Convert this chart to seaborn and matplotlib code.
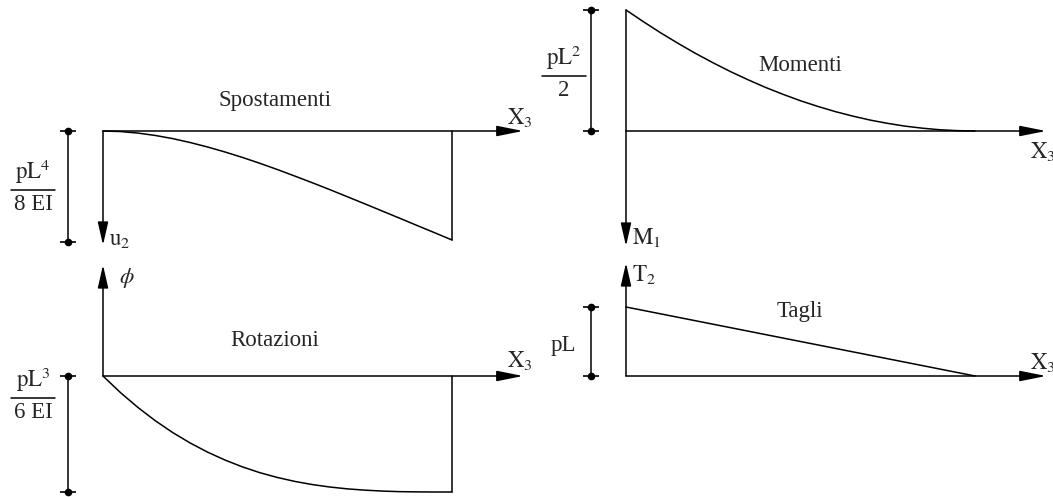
import numpy as np
import pandas as pd
import seaborn as sns
import matplotlib.pyplot as plt

# ---- data (normalised) ----
xi = [0.00, 0.05, 0.10, 0.15, 0.20, 0.25, 0.30, 0.35, 0.40, 0.45, 0.50,
      0.55, 0.60, 0.65, 0.70, 0.75, 0.80, 0.85, 0.90, 0.95, 1.00]
spostamenti = [0.000, 0.005, 0.019, 0.041, 0.070, 0.106, 0.147, 0.193, 0.243, 0.297, 0.354,
               0.414, 0.475, 0.538, 0.603, 0.668, 0.734, 0.800, 0.867, 0.933, 1.000]
rotazioni = [0.000, 0.143, 0.271, 0.386, 0.488, 0.578, 0.657, 0.725, 0.784, 0.834, 0.875,
             0.909, 0.936, 0.957, 0.973, 0.984, 0.992, 0.997, 0.999, 1.000, 1.000]
momenti = [1.000, 0.903, 0.810, 0.723, 0.640, 0.563, 0.490, 0.423, 0.360, 0.303, 0.250,
           0.203, 0.160, 0.123, 0.090, 0.063, 0.040, 0.023, 0.010, 0.003, 0.000]
tagli = [1.00, 0.95, 0.90, 0.85, 0.80, 0.75, 0.70, 0.65, 0.60, 0.55, 0.50,
         0.45, 0.40, 0.35, 0.30, 0.25, 0.20, 0.15, 0.10, 0.05, 0.00]

titles = ["Spostamenti", "Rotazioni", "Momenti", "Tagli"]
axis_labels = [r"$\mathrm{u}_2$", r"$\phi$", r"$\mathrm{M}_1$", r"$\mathrm{T}_2$"]
x_label = r"$\mathrm{X}_3$"
scale_num = [r"$\mathrm{pL}^4$", r"$\mathrm{pL}^3$", r"$\mathrm{pL}^2$", None]
scale_den = ["8 EI", "6 EI", "2", None]
scale_single = [None, None, None, "pL"]

sns.set_style("white")
plt.rcParams["font.family"] = ["Liberation Serif", "DejaVu Serif"]
plt.rcParams["mathtext.fontset"] = "stix"

W, H = 1053, 497
SX = 349.0
FS = 16.5
LW = 1.1
fig = plt.figure(figsize=(W / 100, H / 100), dpi=100)

# layout per panel: origin (px), px per unit value, sign (+1 up / -1 down)
layout = [
    dict(vals=spostamenti, ox=103, oy=131, sy=109, sign=-1,
         vstart=0, vtip=114, lab=(6, 108), title=(172, -31), xl=(417, -14, "center"),
         dim=(0, 111), frac=(-70, 59)),
    dict(vals=rotazioni, ox=103, oy=376, sy=116, sign=-1,
         vstart=0, vtip=-111, lab=(16, -98), title=(172, -36), xl=(417, -15, "center"),
         dim=(0, 116), frac=(-70, 22)),
    dict(vals=momenti, ox=626, oy=131, sy=121, sign=1,
         vstart=-121, vtip=115, lab=(6, 106), title=(174, -66), xl=(404, 20, "left"),
         dim=(-121, 0), frac=(-62, -55)),
    dict(vals=tagli, ox=626, oy=376, sy=69, sign=1,
         vstart=0, vtip=-113, lab=(6, -102), title=(174, -64), xl=(404, -14, "left"),
         dim=(-69, 0), frac=(-63, -31)),
]

arrow_h = dict(arrowstyle="-|>,head_length=0.8,head_width=0.16", mutation_scale=20,
               color="black", lw=LW, shrinkA=0, shrinkB=0)
arrow_v = dict(arrowstyle="-|>,head_length=0.7,head_width=0.16", mutation_scale=20,
               color="black", lw=LW, shrinkA=0, shrinkB=0)

for i, p in enumerate(layout):
    ox, oy, sy = p["ox"], p["oy"], p["sy"]
    ax = fig.add_axes([0, 0, 1, 1])
    ax.set_xlim(-ox / SX, (W - ox) / SX)
    ax.set_ylim((oy - H) / sy, oy / sy)
    ax.axis("off")
    ax.patch.set_alpha(0)

    def D(dx, dy, sy=sy):
        return dx / SX, -dy / sy

    vals = [p["sign"] * v for v in p["vals"]]
    df = pd.DataFrame({"xi": xi, "v": vals})
    sns.lineplot(data=df, x="xi", y="v", ax=ax, color="black", lw=LW,
                 estimator=None, sort=False)

    # closing line at the free end when value there is not zero
    if vals[-1] != 0:
        ax.plot([xi[-1], xi[-1]], [0, vals[-1]], color="black", lw=LW)

    # horizontal axis arrow
    ax.annotate("", xy=D(420, 0), xytext=D(0, 0), arrowprops=arrow_h)
    # vertical axis arrow
    ax.annotate("", xy=D(0, p["vtip"]), xytext=D(0, p["vstart"]), arrowprops=arrow_v)

    # labels
    lx, ly = D(*p["lab"])
    ax.text(lx, ly, axis_labels[i], fontsize=FS, ha="left", va="center")
    tx, ty = D(*p["title"])
    ax.text(tx, ty, titles[i], fontsize=FS, ha="center", va="center")
    xx, xy = D(p["xl"][0], p["xl"][1])
    ax.text(xx, xy, x_label, fontsize=FS, ha=p["xl"][2], va="center")

    # dimension line with dot ends
    dx0, dy0 = D(-35, p["dim"][0])
    dx1, dy1 = D(-35, p["dim"][1])
    ax.plot([dx0, dx1], [dy0, dy1], color="black", lw=LW)
    ax.plot([dx0, dx1], [dy0, dy1], ls="none", marker="o", ms=4.5, color="black")
    ax.plot([dx0, dx1], [dy0, dy1], ls="none", marker="_", ms=11, mew=1.2, color="black")

    # scale labels
    fx, fy = D(*p["frac"])
    if scale_num[i] is not None:
        bx0, _ = D(p["frac"][0] - 22, 0)
        bx1, _ = D(p["frac"][0] + 22, 0)
        ax.plot([bx0, bx1], [fy, fy], color="black", lw=LW)
        _, ny = D(0, p["frac"][1] - 4)
        _, dy_ = D(0, p["frac"][1] + 4)
        ax.text(fx, ny, scale_num[i], fontsize=FS, ha="center", va="bottom")
        ax.text(fx, dy_, scale_den[i], fontsize=FS, ha="center", va="top")
    else:
        ax.text(fx, fy, scale_single[i], fontsize=FS, ha="center", va="center")

fig.savefig("out.png", dpi=100)
